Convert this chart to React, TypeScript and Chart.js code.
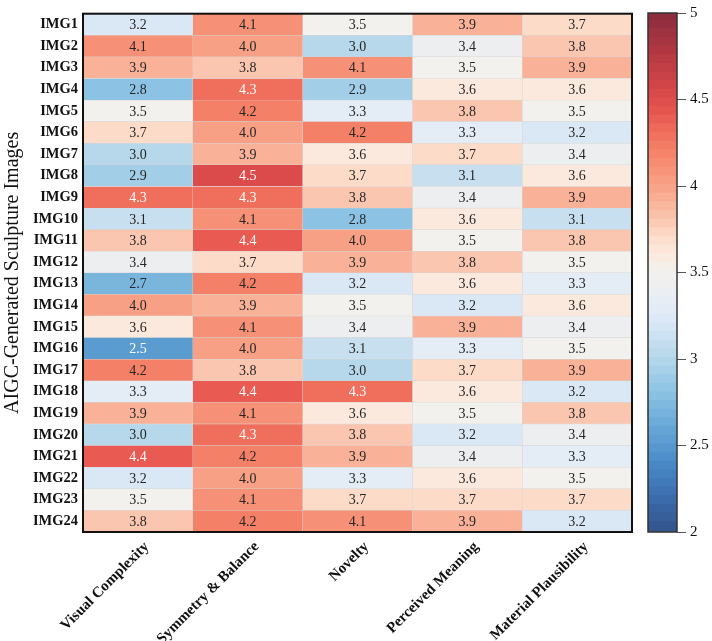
import React, { useEffect, useRef } from "react";
import { Chart, registerables } from "chart.js";

Chart.register(...registerables);

const rowLabels = [
  "IMG1", "IMG2", "IMG3", "IMG4", "IMG5", "IMG6", "IMG7", "IMG8",
  "IMG9", "IMG10", "IMG11", "IMG12", "IMG13", "IMG14", "IMG15", "IMG16",
  "IMG17", "IMG18", "IMG19", "IMG20", "IMG21", "IMG22", "IMG23", "IMG24",
];

const colLabels = [
  "Visual Complexity",
  "Symmetry & Balance",
  "Novelty",
  "Perceived Meaning",
  "Material Plausibility",
];

const visualComplexity = [3.2, 4.1, 3.9, 2.8, 3.5, 3.7, 3.0, 2.9, 4.3, 3.1, 3.8, 3.4, 2.7, 4.0, 3.6, 2.5, 4.2, 3.3, 3.9, 3.0, 4.4, 3.2, 3.5, 3.8];
const symmetryBalance = [4.1, 4.0, 3.8, 4.3, 4.2, 4.0, 3.9, 4.5, 4.3, 4.1, 4.4, 3.7, 4.2, 3.9, 4.1, 4.0, 3.8, 4.4, 4.1, 4.3, 4.2, 4.0, 4.1, 4.2];
const novelty = [3.5, 3.0, 4.1, 2.9, 3.3, 4.2, 3.6, 3.7, 3.8, 2.8, 4.0, 3.9, 3.2, 3.5, 3.4, 3.1, 3.0, 4.3, 3.6, 3.8, 3.9, 3.3, 3.7, 4.1];
const perceivedMeaning = [3.9, 3.4, 3.5, 3.6, 3.8, 3.3, 3.7, 3.1, 3.4, 3.6, 3.5, 3.8, 3.6, 3.2, 3.9, 3.3, 3.7, 3.6, 3.5, 3.2, 3.4, 3.6, 3.7, 3.9];
const materialPlausibility = [3.7, 3.8, 3.9, 3.6, 3.5, 3.2, 3.4, 3.6, 3.9, 3.1, 3.8, 3.5, 3.3, 3.6, 3.4, 3.5, 3.9, 3.2, 3.8, 3.4, 3.3, 3.5, 3.7, 3.2];

const columns = [visualComplexity, symmetryBalance, novelty, perceivedMeaning, materialPlausibility];

const colorbarTicks = [2, 2.5, 3, 3.5, 4, 4.5, 5];
const colorMin = 2;
const colorMax = 5;

// colormap stops (style)
const cmapStops: [number, number, number, number][] = [
  [2.0, 50, 84, 140],
  [2.2, 60, 110, 175],
  [2.4, 76, 140, 200],
  [2.5, 90, 155, 208],
  [2.6, 105, 168, 215],
  [2.7, 122, 182, 220],
  [2.8, 140, 195, 228],
  [2.9, 162, 206, 232],
  [3.0, 182, 216, 234],
  [3.1, 200, 223, 239],
  [3.2, 218, 232, 246],
  [3.3, 228, 236, 246],
  [3.4, 237, 238, 240],
  [3.5, 243, 241, 237],
  [3.6, 252, 233, 221],
  [3.7, 252, 219, 201],
  [3.8, 250, 198, 175],
  [3.9, 249, 178, 152],
  [4.0, 248, 160, 134],
  [4.1, 246, 144, 118],
  [4.2, 244, 128, 104],
  [4.3, 240, 110, 92],
  [4.4, 232, 90, 82],
  [4.5, 220, 75, 75],
  [4.7, 190, 60, 68],
  [5.0, 135, 42, 60],
];

function cmap(v: number): string {
  if (v <= cmapStops[0][0]) {
    const s = cmapStops[0];
    return `rgb(${s[1]},${s[2]},${s[3]})`;
  }
  for (let i = 1; i < cmapStops.length; i++) {
    const b = cmapStops[i];
    if (v <= b[0] + 1e-9) {
      const a = cmapStops[i - 1];
      const t = (v - a[0]) / (b[0] - a[0]);
      const r = Math.round(a[1] + (b[1] - a[1]) * t);
      const g = Math.round(a[2] + (b[2] - a[2]) * t);
      const bl = Math.round(a[3] + (b[3] - a[3]) * t);
      return `rgb(${r},${g},${bl})`;
    }
  }
  const s = cmapStops[cmapStops.length - 1];
  return `rgb(${s[1]},${s[2]},${s[3]})`;
}

const FONT = "'Liberation Serif', 'Times New Roman', serif";

export default function App() {
  const mainRef = useRef<HTMLCanvasElement | null>(null);
  const cbRef = useRef<HTMLCanvasElement | null>(null);

  useEffect(() => {
    if (!mainRef.current || !cbRef.current) return;

    const cellLabels = {
      id: "cellLabels",
      afterDatasetsDraw(chart: any) {
        const ctx = chart.ctx;
        ctx.save();
        ctx.font = `14px ${FONT}`;
        ctx.textAlign = "center";
        ctx.textBaseline = "middle";
        chart.data.datasets.forEach((ds: any, j: number) => {
          const meta = chart.getDatasetMeta(j);
          meta.data.forEach((el: any, i: number) => {
            const v = columns[j][i];
            const c = el.getCenterPoint();
            ctx.fillStyle = v >= 4.25 || v <= 2.6 ? "#ffffff" : "#262626";
            ctx.fillText(v.toFixed(1), c.x, c.y + 1);
          });
        });
        const a = chart.chartArea;
        ctx.strokeStyle = "#111";
        ctx.lineWidth = 2;
        ctx.strokeRect(a.left, a.top, a.right - a.left, a.bottom - a.top);
        ctx.restore();
      },
    };

    const main = new Chart(mainRef.current, {
      type: "bar",
      data: {
        labels: rowLabels,
        datasets: columns.map((vals, j) => ({
          label: colLabels[j],
          data: vals.map(() => [j, j + 1]),
          backgroundColor: vals.map((v) => cmap(v)),
          borderColor: "rgba(210,210,210,0.85)",
          borderWidth: 0.5,
          borderSkipped: false,
          grouped: false,
          barPercentage: 1,
          categoryPercentage: 1,
        })),
      },
      options: {
        indexAxis: "y",
        responsive: false,
        animation: false,
        layout: { padding: { top: 5, left: 0, right: 8, bottom: 0 } },
        plugins: { legend: { display: false }, tooltip: { enabled: false } },
        scales: {
          x: {
            type: "linear",
            min: 0,
            max: colLabels.length,
            grid: { display: false, drawTicks: false },
            border: { display: false },
            afterBuildTicks: (scale: any) => {
              scale.ticks = colLabels.map((_, j) => ({ value: j + 0.5 }));
            },
            afterFit: (scale: any) => {
              scale.height = 109;
            },
            ticks: {
              autoSkip: false,
              minRotation: 45,
              maxRotation: 45,
              padding: 6,
              labelOffset: 9,
              color: "#111",
              font: { family: FONT, size: 15, weight: "bold" },
              callback: (_v: any, i: number) => colLabels[i],
            },
          },
          y: {
            type: "category",
            grid: { display: false, drawTicks: false },
            border: { display: false },
            afterFit: (scale: any) => {
              scale.width = 83;
            },
            ticks: {
              autoSkip: false,
              padding: 5,
              color: "#111",
              font: { family: FONT, size: 14.5, weight: "bold" },
            },
            title: {
              display: true,
              text: "AIGC-Generated Sculpture Images",
              color: "#111",
              font: { family: FONT, size: 20, weight: "normal" },
              padding: { top: 1, bottom: 1 },
            },
          },
        },
      },
      plugins: [cellLabels],
    } as any);

    const cbBorder = {
      id: "cbBorder",
      afterDatasetsDraw(chart: any) {
        const a = chart.chartArea;
        const ctx = chart.ctx;
        ctx.save();
        ctx.strokeStyle = "#333";
        ctx.lineWidth = 1.5;
        ctx.strokeRect(a.left, a.top, a.right - a.left, a.bottom - a.top);
        ctx.restore();
      },
    };

    const nSeg = 60;
    const segs = Array.from({ length: nSeg }, (_, k) => {
      const lo = colorMin + ((colorMax - colorMin) * k) / nSeg;
      const hi = colorMin + ((colorMax - colorMin) * (k + 1)) / nSeg;
      return { lo, hi, mid: (lo + hi) / 2 };
    });

    const cb = new Chart(cbRef.current, {
      type: "bar",
      data: {
        labels: ["cb"],
        datasets: segs.map((s, k) => ({
          data: [[s.lo, k === nSeg - 1 ? s.hi : s.hi + 0.01]],
          backgroundColor: cmap(s.mid),
          borderWidth: 0,
          grouped: false,
          barPercentage: 1,
          categoryPercentage: 1,
        })),
      },
      options: {
        responsive: false,
        animation: false,
        layout: { padding: { top: 5, left: 8, right: 0, bottom: 109 } },
        plugins: { legend: { display: false }, tooltip: { enabled: false } },
        scales: {
          x: { display: false },
          y: {
            type: "linear",
            position: "right",
            min: colorMin,
            max: colorMax,
            afterBuildTicks: (scale: any) => {
              scale.ticks = colorbarTicks.map((v) => ({ value: v }));
            },
            afterFit: (scale: any) => {
              scale.width = 35;
            },
            grid: {
              drawOnChartArea: false,
              drawTicks: true,
              tickLength: 9,
              tickColor: "#555",
              tickWidth: 1,
            },
            border: { display: false },
            ticks: {
              padding: 4,
              color: "#111",
              font: { family: FONT, size: 15 },
              callback: (v: any) => String(v),
            },
          },
        },
      },
      plugins: [cbBorder],
    } as any);

    return () => {
      main.destroy();
      cb.destroy();
    };
  }, []);

  return (
    <div style={{ position: "fixed", left: 0, top: 0, width: 712, height: 641, background: "#fff" }}>
      <canvas ref={mainRef} width={640} height={641} style={{ position: "absolute", left: 0, top: 0 }} />
      <canvas ref={cbRef} width={72} height={641} style={{ position: "absolute", left: 640, top: 0 }} />
    </div>
  );
}
